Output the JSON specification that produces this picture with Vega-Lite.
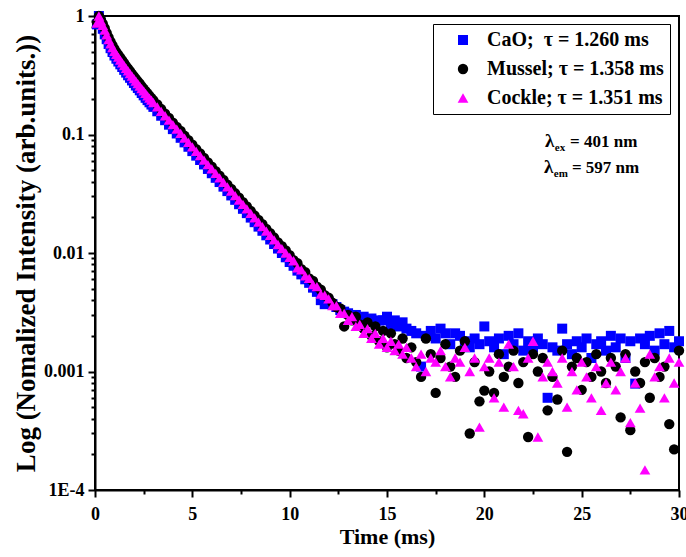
{
  "$schema": "https://vega.github.io/schema/vega-lite/v6.json",
  "width": 584,
  "height": 474,
  "autosize": {"type": "none"},
  "padding": {"left": 95, "top": 16, "right": 7, "bottom": 67},
  "background": "white",
  "config": {
    "font": "Liberation Serif",
    "view": {"stroke": "black", "strokeWidth": 2},
    "axis": {"domainColor": "black", "domainWidth": 2, "tickColor": "black", "tickWidth": 2, "labelFont": "Liberation Serif", "labelFontWeight": "bold", "labelFontSize": 18, "labelColor": "black", "titleFont": "Liberation Serif", "titleFontWeight": "bold", "titleFontSize": 22, "titleColor": "black", "grid": false, "labelOverlap": false, "labelBound": false, "labelFlush": false}
  },
  "layer": [
    {
      "data": {"values": [
        {"s":"CaO","t":0.1,"v":0.85},{"s":"CaO","t":0.2,"v":1.0},{"s":"CaO","t":0.3,"v":0.88},{"s":"CaO","t":0.4,"v":0.78},{"s":"CaO","t":0.5,"v":0.70},{"s":"CaO","t":0.6,"v":0.637},{"s":"CaO","t":0.7,"v":0.58},{"s":"CaO","t":0.8,"v":0.535},{"s":"CaO","t":0.9,"v":0.497},{"s":"CaO","t":1.0,"v":0.464},
        {"s":"CaO","t":1.1,"v":0.436},{"s":"CaO","t":1.2,"v":0.413},{"s":"CaO","t":1.3,"v":0.391},{"s":"CaO","t":1.4,"v":0.371},{"s":"CaO","t":1.5,"v":0.351},{"s":"CaO","t":1.6,"v":0.333},{"s":"CaO","t":1.7,"v":0.316},{"s":"CaO","t":1.8,"v":0.301},{"s":"CaO","t":1.9,"v":0.286},{"s":"CaO","t":2.0,"v":0.272},
        {"s":"CaO","t":2.1,"v":0.259},{"s":"CaO","t":2.2,"v":0.247},{"s":"CaO","t":2.3,"v":0.236},{"s":"CaO","t":2.4,"v":0.224},{"s":"CaO","t":2.5,"v":0.214},{"s":"CaO","t":2.6,"v":0.204},{"s":"CaO","t":2.7,"v":0.195},{"s":"CaO","t":2.8,"v":0.187},{"s":"CaO","t":2.9,"v":0.179},{"s":"CaO","t":3.0,"v":0.171},
        {"s":"CaO","t":3.2,"v":0.157},{"s":"CaO","t":3.4,"v":0.144},{"s":"CaO","t":3.6,"v":0.132},{"s":"CaO","t":3.8,"v":0.121},{"s":"CaO","t":4.0,"v":0.111},{"s":"CaO","t":4.2,"v":0.102},{"s":"CaO","t":4.4,"v":0.0938},{"s":"CaO","t":4.6,"v":0.0858},{"s":"CaO","t":4.8,"v":0.0788},{"s":"CaO","t":5.0,"v":0.0724},
        {"s":"CaO","t":5.2,"v":0.0663},{"s":"CaO","t":5.4,"v":0.0609},{"s":"CaO","t":5.6,"v":0.0559},{"s":"CaO","t":5.8,"v":0.0512},{"s":"CaO","t":6.0,"v":0.0471},{"s":"CaO","t":6.2,"v":0.0431},{"s":"CaO","t":6.4,"v":0.0397},{"s":"CaO","t":6.6,"v":0.0363},{"s":"CaO","t":6.8,"v":0.0333},{"s":"CaO","t":7.0,"v":0.0306},
        {"s":"CaO","t":7.2,"v":0.0281},{"s":"CaO","t":7.4,"v":0.0258},{"s":"CaO","t":7.6,"v":0.0236},{"s":"CaO","t":7.8,"v":0.0217},{"s":"CaO","t":8.0,"v":0.0199},{"s":"CaO","t":8.2,"v":0.0182},{"s":"CaO","t":8.4,"v":0.0167},{"s":"CaO","t":8.6,"v":0.0154},{"s":"CaO","t":8.8,"v":0.0141},{"s":"CaO","t":9.0,"v":0.0130},
        {"s":"CaO","t":9.2,"v":0.0119},{"s":"CaO","t":9.4,"v":0.0109},{"s":"CaO","t":9.6,"v":0.0100},{"s":"CaO","t":9.8,"v":0.0092},{"s":"CaO","t":10.0,"v":0.0084},{"s":"CaO","t":10.2,"v":0.0078},{"s":"CaO","t":10.4,"v":0.0071},{"s":"CaO","t":10.6,"v":0.0066},{"s":"CaO","t":10.8,"v":0.0060},{"s":"CaO","t":11.0,"v":0.0056},
        {"s":"CaO","t":11.2,"v":0.0051},{"s":"CaO","t":11.4,"v":0.0047},{"s":"CaO","t":11.6,"v":0.0040},{"s":"CaO","t":11.8,"v":0.0037},{"s":"CaO","t":12.0,"v":0.0039},{"s":"CaO","t":12.2,"v":0.0037},{"s":"CaO","t":12.4,"v":0.0035},{"s":"CaO","t":12.6,"v":0.0033},{"s":"CaO","t":12.8,"v":0.0032},{"s":"CaO","t":13.0,"v":0.0031},
        {"s":"CaO","t":13.2,"v":0.0029},{"s":"CaO","t":13.4,"v":0.0030},{"s":"CaO","t":13.6,"v":0.0028},{"s":"CaO","t":13.8,"v":0.0029},{"s":"CaO","t":14.0,"v":0.0027},{"s":"CaO","t":14.2,"v":0.0028},{"s":"CaO","t":14.4,"v":0.0026},{"s":"CaO","t":14.6,"v":0.0027},{"s":"CaO","t":14.8,"v":0.0027},{"s":"CaO","t":15.0,"v":0.0029},
        {"s":"CaO","t":15.2,"v":0.0025},{"s":"CaO","t":15.4,"v":0.0027},{"s":"CaO","t":15.6,"v":0.0024},{"s":"CaO","t":15.8,"v":0.0026},{"s":"CaO","t":16.0,"v":0.0023},
        {"s":"CaO","t":16.25,"v":0.0022},{"s":"CaO","t":16.5,"v":0.0021},{"s":"CaO","t":16.75,"v":0.0011},{"s":"CaO","t":17.0,"v":0.0020},{"s":"CaO","t":17.25,"v":0.0022},{"s":"CaO","t":17.5,"v":0.0019},{"s":"CaO","t":17.75,"v":0.0023},{"s":"CaO","t":18.0,"v":0.0021},{"s":"CaO","t":18.25,"v":0.0017},{"s":"CaO","t":18.5,"v":0.0021},
        {"s":"CaO","t":18.75,"v":0.0020},{"s":"CaO","t":19.0,"v":0.0018},{"s":"CaO","t":19.25,"v":0.0016},{"s":"CaO","t":19.5,"v":0.0019},{"s":"CaO","t":19.75,"v":0.0017},{"s":"CaO","t":20.0,"v":0.0024},{"s":"CaO","t":20.25,"v":0.0018},{"s":"CaO","t":20.5,"v":0.0016},{"s":"CaO","t":20.75,"v":0.0019},{"s":"CaO","t":21.0,"v":0.0014},
        {"s":"CaO","t":21.25,"v":0.0020},{"s":"CaO","t":21.5,"v":0.0017},{"s":"CaO","t":21.75,"v":0.0021},{"s":"CaO","t":22.0,"v":0.0015},{"s":"CaO","t":22.25,"v":0.0018},{"s":"CaO","t":22.5,"v":0.0016},{"s":"CaO","t":22.75,"v":0.0019},{"s":"CaO","t":23.0,"v":0.0017},{"s":"CaO","t":23.25,"v":0.00060},{"s":"CaO","t":23.5,"v":0.0016},
        {"s":"CaO","t":23.75,"v":0.0015},{"s":"CaO","t":24.0,"v":0.0023},{"s":"CaO","t":24.25,"v":0.0017},{"s":"CaO","t":24.5,"v":0.0014},{"s":"CaO","t":24.75,"v":0.0018},{"s":"CaO","t":25.0,"v":0.0016},{"s":"CaO","t":25.25,"v":0.0019},{"s":"CaO","t":25.5,"v":0.0013},{"s":"CaO","t":25.75,"v":0.0017},{"s":"CaO","t":26.0,"v":0.0018},
        {"s":"CaO","t":26.25,"v":0.0015},{"s":"CaO","t":26.5,"v":0.0020},{"s":"CaO","t":26.75,"v":0.0016},{"s":"CaO","t":27.0,"v":0.0019},{"s":"CaO","t":27.25,"v":0.0013},{"s":"CaO","t":27.5,"v":0.0018},{"s":"CaO","t":27.75,"v":0.00079},{"s":"CaO","t":28.0,"v":0.0019},{"s":"CaO","t":28.25,"v":0.0017},{"s":"CaO","t":28.5,"v":0.0020},
        {"s":"CaO","t":28.75,"v":0.0015},{"s":"CaO","t":29.0,"v":0.0021},{"s":"CaO","t":29.25,"v":0.0017},{"s":"CaO","t":29.5,"v":0.0022},{"s":"CaO","t":29.75,"v":0.0016},{"s":"CaO","t":30.0,"v":0.0018},

        {"s":"Mussel","t":0.1,"v":0.88},{"s":"Mussel","t":0.2,"v":1.0},{"s":"Mussel","t":0.3,"v":0.93},{"s":"Mussel","t":0.4,"v":0.86},{"s":"Mussel","t":0.5,"v":0.79},{"s":"Mussel","t":0.6,"v":0.72},{"s":"Mussel","t":0.7,"v":0.66},{"s":"Mussel","t":0.8,"v":0.608},{"s":"Mussel","t":0.9,"v":0.564},{"s":"Mussel","t":1.0,"v":0.527},
        {"s":"Mussel","t":1.1,"v":0.495},{"s":"Mussel","t":1.2,"v":0.469},{"s":"Mussel","t":1.3,"v":0.444},{"s":"Mussel","t":1.4,"v":0.421},{"s":"Mussel","t":1.5,"v":0.399},{"s":"Mussel","t":1.6,"v":0.378},{"s":"Mussel","t":1.7,"v":0.359},{"s":"Mussel","t":1.8,"v":0.342},{"s":"Mussel","t":1.9,"v":0.325},{"s":"Mussel","t":2.0,"v":0.309},
        {"s":"Mussel","t":2.1,"v":0.295},{"s":"Mussel","t":2.2,"v":0.281},{"s":"Mussel","t":2.3,"v":0.268},{"s":"Mussel","t":2.4,"v":0.255},{"s":"Mussel","t":2.5,"v":0.243},{"s":"Mussel","t":2.6,"v":0.232},{"s":"Mussel","t":2.7,"v":0.222},{"s":"Mussel","t":2.8,"v":0.212},{"s":"Mussel","t":2.9,"v":0.203},{"s":"Mussel","t":3.0,"v":0.194},
        {"s":"Mussel","t":3.2,"v":0.179},{"s":"Mussel","t":3.4,"v":0.164},{"s":"Mussel","t":3.6,"v":0.150},{"s":"Mussel","t":3.8,"v":0.138},{"s":"Mussel","t":4.0,"v":0.126},{"s":"Mussel","t":4.2,"v":0.116},{"s":"Mussel","t":4.4,"v":0.107},{"s":"Mussel","t":4.6,"v":0.0975},{"s":"Mussel","t":4.8,"v":0.0896},{"s":"Mussel","t":5.0,"v":0.0822},
        {"s":"Mussel","t":5.2,"v":0.0753},{"s":"Mussel","t":5.4,"v":0.0692},{"s":"Mussel","t":5.6,"v":0.0635},{"s":"Mussel","t":5.8,"v":0.0582},{"s":"Mussel","t":6.0,"v":0.0535},{"s":"Mussel","t":6.2,"v":0.0490},{"s":"Mussel","t":6.4,"v":0.0450},{"s":"Mussel","t":6.6,"v":0.0413},{"s":"Mussel","t":6.8,"v":0.0378},{"s":"Mussel","t":7.0,"v":0.0348},
        {"s":"Mussel","t":7.2,"v":0.0319},{"s":"Mussel","t":7.4,"v":0.0293},{"s":"Mussel","t":7.6,"v":0.0269},{"s":"Mussel","t":7.8,"v":0.0247},{"s":"Mussel","t":8.0,"v":0.0226},{"s":"Mussel","t":8.2,"v":0.0207},{"s":"Mussel","t":8.4,"v":0.0190},{"s":"Mussel","t":8.6,"v":0.0175},{"s":"Mussel","t":8.8,"v":0.0160},{"s":"Mussel","t":9.0,"v":0.0147},
        {"s":"Mussel","t":9.2,"v":0.0135},{"s":"Mussel","t":9.4,"v":0.0123},{"s":"Mussel","t":9.6,"v":0.0114},{"s":"Mussel","t":9.8,"v":0.0105},{"s":"Mussel","t":10.0,"v":0.0096},{"s":"Mussel","t":10.2,"v":0.0087},{"s":"Mussel","t":10.4,"v":0.0082},{"s":"Mussel","t":10.6,"v":0.0073},{"s":"Mussel","t":10.8,"v":0.0069},{"s":"Mussel","t":11.0,"v":0.0061},
        {"s":"Mussel","t":11.2,"v":0.0058},{"s":"Mussel","t":11.4,"v":0.0052},{"s":"Mussel","t":11.6,"v":0.0049},{"s":"Mussel","t":11.8,"v":0.0044},{"s":"Mussel","t":12.0,"v":0.0042},{"s":"Mussel","t":12.2,"v":0.0038},{"s":"Mussel","t":12.4,"v":0.0035},{"s":"Mussel","t":12.6,"v":0.0034},{"s":"Mussel","t":12.8,"v":0.0024},{"s":"Mussel","t":13.0,"v":0.0030},
        {"s":"Mussel","t":13.2,"v":0.0027},{"s":"Mussel","t":13.4,"v":0.0029},{"s":"Mussel","t":13.6,"v":0.0025},{"s":"Mussel","t":13.8,"v":0.0023},{"s":"Mussel","t":14.0,"v":0.0026},{"s":"Mussel","t":14.2,"v":0.0020},{"s":"Mussel","t":14.4,"v":0.0024},{"s":"Mussel","t":14.6,"v":0.0018},{"s":"Mussel","t":14.8,"v":0.0022},{"s":"Mussel","t":15.0,"v":0.0016},
        {"s":"Mussel","t":15.2,"v":0.0021},{"s":"Mussel","t":15.4,"v":0.0017},{"s":"Mussel","t":15.6,"v":0.0015},{"s":"Mussel","t":15.8,"v":0.0019},{"s":"Mussel","t":16.0,"v":0.0013},
        {"s":"Mussel","t":16.25,"v":0.0016},{"s":"Mussel","t":16.5,"v":0.0012},{"s":"Mussel","t":16.75,"v":0.0009},{"s":"Mussel","t":17.0,"v":0.0019},{"s":"Mussel","t":17.25,"v":0.0014},{"s":"Mussel","t":17.5,"v":0.00066},{"s":"Mussel","t":17.75,"v":0.0013},{"s":"Mussel","t":18.0,"v":0.0017},{"s":"Mussel","t":18.25,"v":0.0011},{"s":"Mussel","t":18.5,"v":0.0009},
        {"s":"Mussel","t":18.75,"v":0.0015},{"s":"Mussel","t":19.0,"v":0.0018},{"s":"Mussel","t":19.25,"v":0.00030},{"s":"Mussel","t":19.5,"v":0.0012},{"s":"Mussel","t":19.75,"v":0.00056},{"s":"Mussel","t":20.0,"v":0.00069},{"s":"Mussel","t":20.25,"v":0.0010},{"s":"Mussel","t":20.5,"v":0.00066},{"s":"Mussel","t":20.75,"v":0.0014},{"s":"Mussel","t":21.0,"v":0.0009},
        {"s":"Mussel","t":21.25,"v":0.0011},{"s":"Mussel","t":21.5,"v":0.0015},{"s":"Mussel","t":21.75,"v":0.0008},{"s":"Mussel","t":22.0,"v":0.0012},{"s":"Mussel","t":22.25,"v":0.00028},{"s":"Mussel","t":22.5,"v":0.0014},{"s":"Mussel","t":22.75,"v":0.0010},{"s":"Mussel","t":23.0,"v":0.0013},{"s":"Mussel","t":23.25,"v":0.00047},{"s":"Mussel","t":23.5,"v":0.0009},
        {"s":"Mussel","t":23.75,"v":0.00058},{"s":"Mussel","t":24.0,"v":0.0015},{"s":"Mussel","t":24.25,"v":0.00021},{"s":"Mussel","t":24.5,"v":0.0011},{"s":"Mussel","t":24.75,"v":0.0013},{"s":"Mussel","t":25.0,"v":0.0007},{"s":"Mussel","t":25.25,"v":0.0012},{"s":"Mussel","t":25.5,"v":0.0009},{"s":"Mussel","t":25.75,"v":0.0014},{"s":"Mussel","t":26.0,"v":0.0010},
        {"s":"Mussel","t":26.25,"v":0.0008},{"s":"Mussel","t":26.5,"v":0.0013},{"s":"Mussel","t":26.75,"v":0.0011},{"s":"Mussel","t":27.0,"v":0.00041},{"s":"Mussel","t":27.25,"v":0.0014},{"s":"Mussel","t":27.5,"v":0.00032},{"s":"Mussel","t":27.75,"v":0.0010},{"s":"Mussel","t":28.0,"v":0.0008},{"s":"Mussel","t":28.25,"v":0.0012},{"s":"Mussel","t":28.5,"v":0.0006},
        {"s":"Mussel","t":28.75,"v":0.0013},{"s":"Mussel","t":29.0,"v":0.0009},{"s":"Mussel","t":29.25,"v":0.0011},{"s":"Mussel","t":29.5,"v":0.00036},{"s":"Mussel","t":29.75,"v":0.00022},{"s":"Mussel","t":30.0,"v":0.0015},

        {"s":"Cockle","t":0.1,"v":0.871},{"s":"Cockle","t":0.2,"v":1.0},{"s":"Cockle","t":0.3,"v":0.912},{"s":"Cockle","t":0.4,"v":0.832},{"s":"Cockle","t":0.5,"v":0.759},{"s":"Cockle","t":0.6,"v":0.692},{"s":"Cockle","t":0.7,"v":0.631},{"s":"Cockle","t":0.8,"v":0.582},{"s":"Cockle","t":0.9,"v":0.540},{"s":"Cockle","t":1.0,"v":0.504},
        {"s":"Cockle","t":1.1,"v":0.474},{"s":"Cockle","t":1.2,"v":0.449},{"s":"Cockle","t":1.3,"v":0.425},{"s":"Cockle","t":1.4,"v":0.403},{"s":"Cockle","t":1.5,"v":0.382},{"s":"Cockle","t":1.6,"v":0.362},{"s":"Cockle","t":1.7,"v":0.344},{"s":"Cockle","t":1.8,"v":0.327},{"s":"Cockle","t":1.9,"v":0.311},{"s":"Cockle","t":2.0,"v":0.296},
        {"s":"Cockle","t":2.1,"v":0.282},{"s":"Cockle","t":2.2,"v":0.269},{"s":"Cockle","t":2.3,"v":0.256},{"s":"Cockle","t":2.4,"v":0.244},{"s":"Cockle","t":2.5,"v":0.233},{"s":"Cockle","t":2.6,"v":0.222},{"s":"Cockle","t":2.7,"v":0.212},{"s":"Cockle","t":2.8,"v":0.203},{"s":"Cockle","t":2.9,"v":0.195},{"s":"Cockle","t":3.0,"v":0.186},
        {"s":"Cockle","t":3.2,"v":0.171},{"s":"Cockle","t":3.4,"v":0.157},{"s":"Cockle","t":3.6,"v":0.144},{"s":"Cockle","t":3.8,"v":0.132},{"s":"Cockle","t":4.0,"v":0.121},{"s":"Cockle","t":4.2,"v":0.111},{"s":"Cockle","t":4.4,"v":0.102},{"s":"Cockle","t":4.6,"v":0.0933},{"s":"Cockle","t":4.8,"v":0.0857},{"s":"Cockle","t":5.0,"v":0.0787},
        {"s":"Cockle","t":5.2,"v":0.0721},{"s":"Cockle","t":5.4,"v":0.0662},{"s":"Cockle","t":5.6,"v":0.0608},{"s":"Cockle","t":5.8,"v":0.0557},{"s":"Cockle","t":6.0,"v":0.0512},{"s":"Cockle","t":6.2,"v":0.0469},{"s":"Cockle","t":6.4,"v":0.0431},{"s":"Cockle","t":6.6,"v":0.0395},{"s":"Cockle","t":6.8,"v":0.0362},{"s":"Cockle","t":7.0,"v":0.0333},
        {"s":"Cockle","t":7.2,"v":0.0305},{"s":"Cockle","t":7.4,"v":0.0280},{"s":"Cockle","t":7.6,"v":0.0257},{"s":"Cockle","t":7.8,"v":0.0236},{"s":"Cockle","t":8.0,"v":0.0216},{"s":"Cockle","t":8.2,"v":0.0198},{"s":"Cockle","t":8.4,"v":0.0182},{"s":"Cockle","t":8.6,"v":0.0167},{"s":"Cockle","t":8.8,"v":0.0153},{"s":"Cockle","t":9.0,"v":0.0141},
        {"s":"Cockle","t":9.2,"v":0.0129},{"s":"Cockle","t":9.4,"v":0.0118},{"s":"Cockle","t":9.6,"v":0.0109},{"s":"Cockle","t":9.8,"v":0.0100},{"s":"Cockle","t":10.0,"v":0.0092},{"s":"Cockle","t":10.2,"v":0.0086},{"s":"Cockle","t":10.4,"v":0.0075},{"s":"Cockle","t":10.6,"v":0.0072},{"s":"Cockle","t":10.8,"v":0.0064},{"s":"Cockle","t":11.0,"v":0.0061},
        {"s":"Cockle","t":11.2,"v":0.0054},{"s":"Cockle","t":11.4,"v":0.0052},{"s":"Cockle","t":11.6,"v":0.0045},{"s":"Cockle","t":11.8,"v":0.0044},{"s":"Cockle","t":12.0,"v":0.0041},{"s":"Cockle","t":12.2,"v":0.0036},{"s":"Cockle","t":12.4,"v":0.0036},{"s":"Cockle","t":12.6,"v":0.0031},{"s":"Cockle","t":12.8,"v":0.0031},{"s":"Cockle","t":13.0,"v":0.0027},
        {"s":"Cockle","t":13.2,"v":0.0029},{"s":"Cockle","t":13.4,"v":0.0024},{"s":"Cockle","t":13.6,"v":0.0025},{"s":"Cockle","t":13.8,"v":0.0021},{"s":"Cockle","t":14.0,"v":0.0023},{"s":"Cockle","t":14.2,"v":0.0019},{"s":"Cockle","t":14.4,"v":0.0021},{"s":"Cockle","t":14.6,"v":0.0017},{"s":"Cockle","t":14.8,"v":0.0019},{"s":"Cockle","t":15.0,"v":0.0016},
        {"s":"Cockle","t":15.2,"v":0.0018},{"s":"Cockle","t":15.4,"v":0.0015},{"s":"Cockle","t":15.6,"v":0.0017},{"s":"Cockle","t":15.8,"v":0.0014},{"s":"Cockle","t":16.0,"v":0.0016},
        {"s":"Cockle","t":16.25,"v":0.0013},{"s":"Cockle","t":16.5,"v":0.0011},{"s":"Cockle","t":16.75,"v":0.0014},{"s":"Cockle","t":17.0,"v":0.0010},{"s":"Cockle","t":17.25,"v":0.0013},{"s":"Cockle","t":17.5,"v":0.0012},{"s":"Cockle","t":17.75,"v":0.0015},{"s":"Cockle","t":18.0,"v":0.0011},{"s":"Cockle","t":18.25,"v":0.0009},{"s":"Cockle","t":18.5,"v":0.0013},
        {"s":"Cockle","t":18.75,"v":0.0012},{"s":"Cockle","t":19.0,"v":0.0016},{"s":"Cockle","t":19.25,"v":0.0010},{"s":"Cockle","t":19.5,"v":0.0013},{"s":"Cockle","t":19.75,"v":0.00034},{"s":"Cockle","t":20.0,"v":0.0011},{"s":"Cockle","t":20.25,"v":0.0013},{"s":"Cockle","t":20.5,"v":0.0006},{"s":"Cockle","t":20.75,"v":0.0012},{"s":"Cockle","t":21.0,"v":0.0005},
        {"s":"Cockle","t":21.25,"v":0.0017},{"s":"Cockle","t":21.5,"v":0.0011},{"s":"Cockle","t":21.75,"v":0.00047},{"s":"Cockle","t":22.0,"v":0.00044},{"s":"Cockle","t":22.25,"v":0.0013},{"s":"Cockle","t":22.5,"v":0.0018},{"s":"Cockle","t":22.75,"v":0.00028},{"s":"Cockle","t":23.0,"v":0.0009},{"s":"Cockle","t":23.25,"v":0.0012},{"s":"Cockle","t":23.5,"v":0.0010},
        {"s":"Cockle","t":23.75,"v":0.0008},{"s":"Cockle","t":24.0,"v":0.0013},{"s":"Cockle","t":24.25,"v":0.0005},{"s":"Cockle","t":24.5,"v":0.0010},{"s":"Cockle","t":24.75,"v":0.0007},{"s":"Cockle","t":25.0,"v":0.0012},{"s":"Cockle","t":25.25,"v":0.0009},{"s":"Cockle","t":25.5,"v":0.0006},{"s":"Cockle","t":25.75,"v":0.0011},{"s":"Cockle","t":26.0,"v":0.00047},
        {"s":"Cockle","t":26.25,"v":0.0008},{"s":"Cockle","t":26.5,"v":0.0012},{"s":"Cockle","t":26.75,"v":0.0007},{"s":"Cockle","t":27.0,"v":0.0010},{"s":"Cockle","t":27.25,"v":0.0013},{"s":"Cockle","t":27.5,"v":0.00037},{"s":"Cockle","t":27.75,"v":0.0008},{"s":"Cockle","t":28.0,"v":0.00049},{"s":"Cockle","t":28.25,"v":0.000148},{"s":"Cockle","t":28.5,"v":0.0014},
        {"s":"Cockle","t":28.75,"v":0.0009},{"s":"Cockle","t":29.0,"v":0.0011},{"s":"Cockle","t":29.25,"v":0.0006},{"s":"Cockle","t":29.5,"v":0.0013},{"s":"Cockle","t":29.75,"v":0.0008},{"s":"Cockle","t":30.0,"v":0.0012}
      ]},
      "mark": {"type": "point", "filled": true, "opacity": 1, "strokeWidth": 0},
      "encoding": {
        "x": {"field": "t", "type": "quantitative", "scale": {"domain": [0, 30], "nice": false, "zero": false},
          "axis": {"title": "Time (ms)", "values": [0, 2.5, 5, 7.5, 10, 12.5, 15, 17.5, 20, 22.5, 25, 27.5, 30],
            "labelExpr": "datum.value % 5 == 0 ? datum.label : ''",
            "tickSize": {"condition": {"test": "datum.value % 5 == 0", "value": 7}, "value": 4},
            "labelPadding": 8, "titlePadding": 3}},
        "y": {"field": "v", "type": "quantitative", "scale": {"type": "log", "domain": [0.0001, 1], "nice": false},
          "axis": {"title": "Log (Nomalized Intensity (arb.units.))", "titleFontSize": 27,
            "values": [0.0001, 0.0002, 0.0003, 0.0004, 0.0005, 0.0006, 0.0007, 0.0008, 0.0009, 0.001, 0.002, 0.003, 0.004, 0.005, 0.006, 0.007, 0.008, 0.009, 0.01, 0.02, 0.03, 0.04, 0.05, 0.06, 0.07, 0.08, 0.09, 0.1, 0.2, 0.3, 0.4, 0.5, 0.6, 0.7, 0.8, 0.9, 1],
            "labelExpr": "datum.value == 0.0001 ? '1E-4' : datum.value == 0.001 ? '0.001' : datum.value == 0.01 ? '0.01' : datum.value == 0.1 ? '0.1' : datum.value == 1 ? '1' : ''",
            "tickSize": {"condition": {"test": "datum.value == 0.0001 || datum.value == 0.001 || datum.value == 0.01 || datum.value == 0.1 || datum.value == 1", "value": 7}, "value": 4},
            "labelPadding": 4, "titlePadding": 3}},
        "color": {"field": "s", "type": "nominal", "scale": {"domain": ["CaO", "Mussel", "Cockle"], "range": ["#0000ff", "#000000", "#ff00ff"]},
          "legend": {"title": null, "orient": "none", "legendX": 338, "legendY": 8, "padding": 6, "strokeColor": "black", "fillColor": "white", "rowPadding": 9, "labelFont": "Liberation Serif", "labelFontWeight": "bold", "labelFontSize": 20, "labelColor": "black", "labelLimit": 400, "labelOffset": 14, "symbolOffset": 14,
            "labelExpr": "datum.label == 'CaO' ? 'CaO;\u00a0 τ = 1.260 ms' : datum.label == 'Mussel' ? 'Mussel; τ = 1.358 ms' : 'Cockle; τ = 1.351 ms'"}},
        "shape": {"field": "s", "type": "nominal", "scale": {"domain": ["CaO", "Mussel", "Cockle"], "range": ["square", "circle", "triangle-up"]}},
        "size": {"field": "s", "type": "nominal", "scale": {"domain": ["CaO", "Mussel", "Cockle"], "range": [100, 115, 144]}}
      }
    },
    {
      "data": {"values": [{}]},
      "mark": {"type": "text", "align": "left", "baseline": "alphabetic", "fontWeight": "bold", "fontSize": 19, "font": "Liberation Serif", "color": "black"},
      "encoding": {"x": {"datum": 23.12}, "y": {"datum": 0.0785}, "text": {"value": "λ"}}
    },
    {
      "data": {"values": [{}]},
      "mark": {"type": "text", "align": "left", "baseline": "alphabetic", "fontWeight": "bold", "fontSize": 11, "font": "Liberation Serif", "color": "black", "dy": 4},
      "encoding": {"x": {"datum": 23.62}, "y": {"datum": 0.0785}, "text": {"value": "ex"}}
    },
    {
      "data": {"values": [{}]},
      "mark": {"type": "text", "align": "left", "baseline": "alphabetic", "fontWeight": "bold", "fontSize": 17, "font": "Liberation Serif", "color": "black"},
      "encoding": {"x": {"datum": 24.4}, "y": {"datum": 0.0785}, "text": {"value": "= 401 nm"}}
    },
    {
      "data": {"values": [{}]},
      "mark": {"type": "text", "align": "left", "baseline": "alphabetic", "fontWeight": "bold", "fontSize": 19, "font": "Liberation Serif", "color": "black"},
      "encoding": {"x": {"datum": 23.07}, "y": {"datum": 0.0473}, "text": {"value": "λ"}}
    },
    {
      "data": {"values": [{}]},
      "mark": {"type": "text", "align": "left", "baseline": "alphabetic", "fontWeight": "bold", "fontSize": 11, "font": "Liberation Serif", "color": "black", "dy": 4},
      "encoding": {"x": {"datum": 23.57}, "y": {"datum": 0.0473}, "text": {"value": "em"}}
    },
    {
      "data": {"values": [{}]},
      "mark": {"type": "text", "align": "left", "baseline": "alphabetic", "fontWeight": "bold", "fontSize": 17, "font": "Liberation Serif", "color": "black"},
      "encoding": {"x": {"datum": 24.5}, "y": {"datum": 0.0473}, "text": {"value": "= 597 nm"}}
    }
  ]
}
